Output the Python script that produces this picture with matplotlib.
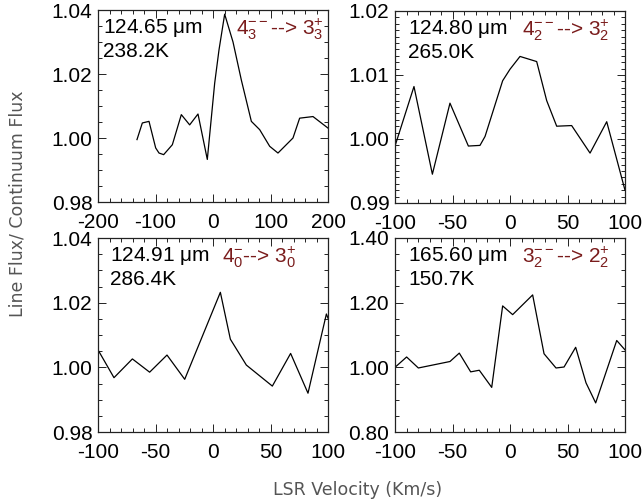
import numpy as np
import matplotlib
matplotlib.use('Agg')
import matplotlib.pyplot as plt
from matplotlib.ticker import MultipleLocator

plt.rcParams['font.family'] = ['Liberation Sans', 'DejaVu Sans']
plt.rcParams['mathtext.fontset'] = 'custom'
plt.rcParams['mathtext.rm'] = 'Liberation Sans'
plt.rcParams['mathtext.it'] = 'Liberation Sans'
plt.rcParams['axes.unicode_minus'] = False

red = '#7a1c1c'
fsize = 15

# line profiles: LSR velocity (km/s) vs line/continuum flux
v1 = [-132.2, -122.9, -111.3, -99.7, -93.9, -85.8, -70.7, -55.1, -40.6, -26.1,
      -9.9, 2.9, 10.4, 20.3, 34.8, 49.3, 66.7, 81.2, 98.6, 113.0, 139.1, 150.7,
      173.9, 200.0]
f1 = [0.9995, 1.0047, 1.0052, 0.9969, 0.9953, 0.9948, 0.9979, 1.0073, 1.0041,
      1.0075, 0.9933, 1.0171, 1.0275, 1.0387, 1.0300, 1.0181, 1.0052, 1.0026,
      0.9974, 0.9953, 1.0000, 1.0062, 1.0067, 1.0031]

v2 = [-100.0, -83.5, -67.5, -52.2, -36.2, -26.1, -21.7, -6.4, 0.0, 8.7, 23.2,
      31.9, 40.6, 53.6, 69.6, 84.1, 100.0]
f2 = [0.9989, 1.0082, 0.9945, 1.0056, 0.9989, 0.9990, 1.0004, 1.0091, 1.0109,
      1.0129, 1.0121, 1.0060, 1.0020, 1.0021, 0.9978, 1.0027, 0.9920]

v3 = [-100.0, -86.1, -70.1, -55.1, -40.0, -24.6, 6.4, 15.1, 29.0, 51.6, 67.5,
      82.6, 98.6, 100.0]
f3 = [1.0054, 0.9968, 1.0026, 0.9985, 1.0038, 0.9963, 1.0232, 1.0087, 1.0007,
      0.9942, 1.0043, 0.9920, 1.0165, 1.0152]

v4 = [-100.0, -89.9, -79.7, -52.2, -44.1, -34.2, -26.7, -15.9, -6.4, 2.3, 19.7,
      29.6, 40.0, 47.0, 57.1, 66.1, 74.5, 92.8, 100.0]
f4 = [1.000, 1.032, 0.998, 1.018, 1.044, 0.986, 0.991, 0.938, 1.190, 1.163,
      1.224, 1.042, 0.998, 1.001, 1.062, 0.952, 0.890, 1.083, 1.054]

waves = ['124.65 $\\mu$m', '124.80 $\\mu$m', '124.91 $\\mu$m', '165.60 $\\mu$m']
temps = ['238.2K', '265.0K', '286.4K', '150.7K']
trans = ['$4_3^{--}$--> $3_3^{+}$', '$4_2^{--}$--> $3_2^{+}$',
         '$4_0^{-}$--> $3_0^{+}$', '$3_2^{--}$--> $2_2^{+}$']

fig = plt.figure(figsize=(6.44, 5.04), dpi=100)
W, H = 644., 504.
boxes = [(98, 10, 328, 202), (395, 11, 625, 203),
         (98, 238, 328, 432), (395, 238, 625, 432)]
axes = []
for (x0, y0, x1, y1) in boxes:
    axes.append(fig.add_axes([x0/W, 1-y1/H, (x1-x0)/W, (y1-y0)/H]))

vels = [v1, v2, v3, v4]
fluxes = [f1, f2, f3, f4]
xlims = [(-200, 200), (-100, 100), (-100, 100), (-100, 100)]
ylims = [(0.98, 1.04), (0.99, 1.02), (0.98, 1.04), (0.80, 1.40)]
xmaj = [100, 50, 50, 50]
xmin = [20, 10, 10, 10]
ymaj = [0.02, 0.01, 0.02, 0.20]
ymin = [0.005, 0.001, 0.005, 0.05]
txt_x = [0.02, 0.057, 0.052, 0.057]
red_x = [0.60, 0.55, 0.54, 0.55]

for i, ax in enumerate(axes):
    ax.plot(vels[i], fluxes[i], color='black', lw=0.9)
    ax.set_xlim(xlims[i])
    ax.set_ylim(ylims[i])
    ax.xaxis.set_major_locator(MultipleLocator(xmaj[i]))
    ax.xaxis.set_minor_locator(MultipleLocator(xmin[i]))
    ax.yaxis.set_major_locator(MultipleLocator(ymaj[i]))
    ax.yaxis.set_minor_locator(MultipleLocator(ymin[i]))
    ax.yaxis.set_major_formatter(plt.FormatStrFormatter('%.2f'))
    ax.tick_params(which='both', direction='in', top=True, right=True,
                   labelsize=fsize, width=0.7, color='#222222')
    ax.tick_params(axis='x', pad=8)
    ax.tick_params(axis='y', pad=4)
    ax.tick_params(which='major', length=6)
    ax.tick_params(which='minor', length=3)
    for s in ax.spines.values():
        s.set_linewidth(0.9)
        s.set_color('#222222')
    ax.text(txt_x[i], 0.965, waves[i], transform=ax.transAxes, fontsize=fsize,
            va='top', ha='left')
    ax.text(txt_x[i], 0.835, temps[i], transform=ax.transAxes, fontsize=fsize,
            va='top', ha='left')
    ax.text(red_x[i], 0.965, trans[i], transform=ax.transAxes, fontsize=fsize,
            va='top', ha='left', color=red)

fig.text(18/W, 1-204/H, 'Line Flux/ Continuum Flux', rotation=90,
         ha='center', va='center', fontsize=12.5, color='#555555',
         family='DejaVu Sans')
fig.text(358/W, 1-490/H, 'LSR Velocity (Km/s)', ha='center', va='center',
         fontsize=12.5, color='#555555', family='DejaVu Sans')

plt.savefig('out.png', dpi=100)
